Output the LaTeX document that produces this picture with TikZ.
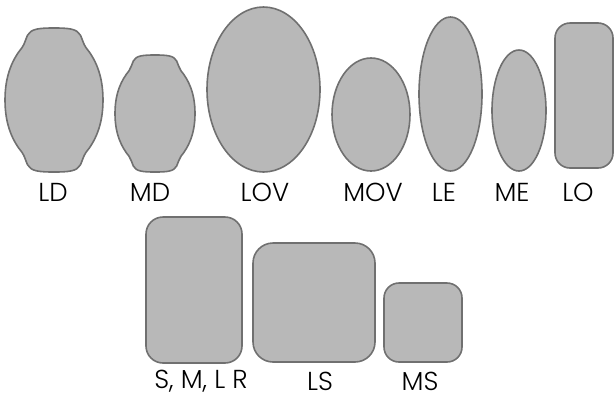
\documentclass[tikz,border=0pt]{standalone}
\usepackage{fontspec}
\setmainfont{Poppins}[UprightFont={* Light}]
\definecolor{shapefill}{HTML}{B8B8B8}
\definecolor{shapeline}{HTML}{707070}
\tikzset{
  blob/.style={fill=shapefill, draw=shapeline, line width=0.8pt},
  lbl/.style={font=\fontsize{13}{15}\selectfont, inner sep=0pt, text=black}
}
\newcommand\ornateshape[5]{% name, cx, cy, halfwidth, halfheight
  \begin{scope}[shift={(#2,#3)}, xscale=#4, yscale=#5]
    \draw[blob] (0,-1) .. controls (0.3,-1) and (0.47,-0.99) .. (0.54,-0.9)
      .. controls (0.58,-0.84) and (0.6,-0.78) .. (0.65,-0.73)
      .. controls (0.83,-0.58) and (1,-0.36) .. (1,0)
      .. controls (1,0.36) and (0.83,0.58) .. (0.65,0.73)
      .. controls (0.6,0.78) and (0.58,0.84) .. (0.54,0.9)
      .. controls (0.47,0.99) and (0.3,1) .. (0,1)
      .. controls (-0.3,1) and (-0.47,0.99) .. (-0.54,0.9)
      .. controls (-0.58,0.84) and (-0.6,0.78) .. (-0.65,0.73)
      .. controls (-0.83,0.58) and (-1,0.36) .. (-1,0)
      .. controls (-1,-0.36) and (-0.83,-0.58) .. (-0.65,-0.73)
      .. controls (-0.6,-0.78) and (-0.58,-0.84) .. (-0.54,-0.9)
      .. controls (-0.47,-0.99) and (-0.3,-1) .. (0,-1) -- cycle;
    \coordinate (#1) at (0,0);
  \end{scope}}
\begin{document}
\begin{tikzpicture}[x=0.5pt, y=-0.5pt]
\useasboundingbox (0,0) rectangle (614,397);
% top row
\ornateshape{LD}{54}{100}{49}{72}
\ornateshape{MD}{155}{113.5}{40}{58.5}
\draw[blob] (263.5,89.5) ellipse [x radius=56.5, y radius=82.5];
\coordinate (LOV) at (263.5,89.5);
\draw[blob] (371,114.5) ellipse [x radius=39, y radius=56.5];
\coordinate (MOV) at (371,114.5);
\draw[blob] (450.5,94) ellipse [x radius=31.5, y radius=77];
\coordinate (LE) at (450.5,94);
\draw[blob] (519,110.5) ellipse [x radius=27, y radius=60.5];
\coordinate (ME) at (519,110.5);
\draw[blob, rounded corners=7.5pt] (555,23) rectangle (613,168);
\coordinate (LO) at (584,95.5);
% labels top row
\node[lbl] (tLD) at (53,192) {LD};
\node[lbl] (tMD) at (150,192) {MD};
\node[lbl] (tLOV) at (265,192) {LOV};
\node[lbl] (tMOV) at (373,192) {MOV};
\node[lbl] (tLE) at (444,192) {LE};
\node[lbl] (tME) at (512,192) {ME};
\node[lbl] (tLO) at (578,192) {LO};
% bottom row
\draw[blob, rounded corners=8.5pt] (146,217) rectangle (242,363);
\draw[blob, rounded corners=10pt] (253,243) rectangle (375,362);
\draw[blob, rounded corners=7.5pt] (384,283) rectangle (462,362);
\node[lbl] (tR) at (201,381) {S, M, L R};
\node[lbl] (tLS) at (320,381) {LS};
\node[lbl] (tMS) at (420,381) {MS};
\end{tikzpicture}
\end{document}
